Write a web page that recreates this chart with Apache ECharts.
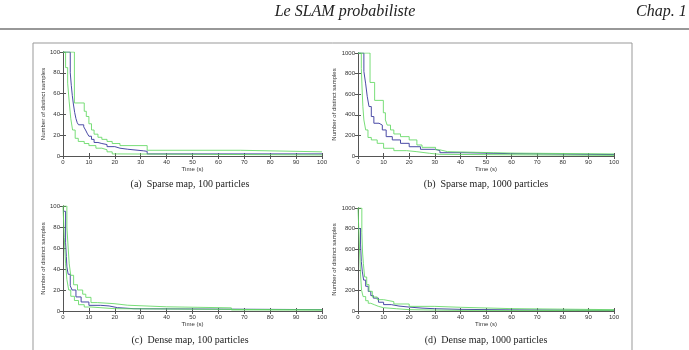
<!DOCTYPE html>
<html>
<head>
<meta charset="utf-8">
<script src="https://cdn.jsdelivr.net/npm/echarts@6/dist/echarts.min.js"></script>
<style>
  html, body { margin: 0; padding: 0; background: #fff; }
  #chart { width: 689px; height: 350px; }
</style>
</head>
<body>
<div id="chart"></div>
<script>
// (a) sparse map, 100 particles
const aUpT = [0, 4.4, 8.2, 9, 10, 11, 12, 13.5, 15, 17, 19, 22, 32.5, 68.5, 100];
const aUp  = [100, 51, 43, 38, 31, 25, 21, 18, 16, 14, 12, 10, 5.5, 4, 4];
const aMeanT = [0, 2.8, 3.2, 3.6, 4, 4.5, 5, 5.5, 6, 8, 8.7, 9.3, 10, 11, 12, 13.5, 15, 17, 20, 22, 25, 31, 32.5, 100];
const aMean  = [100, 80, 68, 58, 50, 42, 36, 32, 30, 28, 25, 22, 19, 16, 13, 12, 11, 9, 7.5, 6.5, 5, 4.5, 2, 2];
const aLowT = [0, 1, 1.8, 2.4, 3, 3.7, 4.7, 5.9, 8.2, 10, 12.7, 15, 17, 19, 21, 100];
const aLow  = [100, 85, 70, 52, 36, 25, 17, 14, 12, 10, 7.5, 6, 4, 2, 1, 1];

// (b) sparse map, 1000 particles
const bUpT = [0, 4.7, 6.5, 9.9, 10.7, 11.4, 12.7, 14, 16.6, 20, 23, 25, 30.3, 32, 35, 53, 61, 100];
const bUp  = [1000, 714, 540, 420, 350, 300, 253, 214, 188, 156, 107, 84, 60, 42, 32, 28, 20, 20];
const bMeanT = [0, 2.3, 3, 3.6, 4.3, 5.2, 6.2, 8.2, 9.5, 11, 13.4, 16.6, 20, 24.4, 30.3, 32, 41, 59.5, 100];
const bMean  = [1000, 820, 700, 580, 480, 383, 318, 300, 253, 188, 156, 123, 90, 65, 52, 32, 23, 14, 14];
const bLowT = [0, 1.3, 1.6, 1.9, 2.3, 3, 3.9, 5.2, 7.5, 10, 14, 19, 23, 28, 32, 100];
const bLow  = [1000, 850, 650, 480, 350, 253, 180, 156, 123, 75, 52, 42, 26, 16, 6, 5];

// (c) dense map, 100 particles
const cUpT = [0, 1.5, 2, 2.4, 3, 4.1, 5.6, 7.6, 8.8, 10.8, 13.3, 19.7, 25, 40, 65, 100];
const cUp  = [100, 80, 60, 45, 34, 25, 20, 16, 13, 8, 7, 5.5, 4, 3, 1, 1];
const cMeanT = [0, 1, 1.3, 1.5, 2, 2.8, 3.5, 5, 7, 10, 14.6, 17.8, 21, 27.4, 100];
const cMean  = [95, 65, 52, 42, 35, 24, 20, 13.4, 8.6, 5.4, 4.8, 3.2, 2.2, 1.3, 1];
const cLowT = [0, 0.5, 1, 1.5, 2.2, 3, 4.4, 6, 8.2, 10.8, 20, 100];
const cLow  = [100, 70, 45, 30, 20, 14, 10, 6, 3.8, 2.2, 1, 0.5];

// (d) dense map, 1000 particles
const dUpT = [0, 1.5, 1.8, 2.1, 2.6, 3.4, 4.3, 5.6, 7.5, 10, 14, 20, 30, 40, 60, 100];
const dUp  = [1000, 760, 563, 460, 330, 256, 191, 136, 110, 91, 68, 45, 36, 23, 13, 8];
const dMeanT = [0, 1, 1.3, 1.7, 2.2, 3, 4, 5, 6, 8, 10, 13, 16, 20, 25, 30, 40, 60, 100];
const dMean  = [800, 650, 480, 380, 300, 240, 190, 150, 125, 85, 62, 48, 38, 28, 22, 16, 11, 7, 5];
const dLowT = [0, 0.6, 1, 1.4, 2, 3, 4, 5, 6.5, 8, 10, 15, 20, 30, 40, 100];
const dLow  = [1000, 600, 350, 200, 140, 100, 75, 60, 45, 32, 22, 13, 9, 6, 4, 3];

const captions = [
  '(a)  Sparse map, 100 particles',
  '(b)  Sparse map, 1000 particles',
  '(c)  Dense map, 100 particles',
  '(d)  Dense map, 1000 particles'
];
const yMax = [100, 1000, 100, 1000];
const yStep = [20, 200, 20, 200];

const panels = [
  [[aUpT, aUp], [aMeanT, aMean], [aLowT, aLow]],
  [[bUpT, bUp], [bMeanT, bMean], [bLowT, bLow]],
  [[cUpT, cUp], [cMeanT, cMean], [cLowT, cLow]],
  [[dUpT, dUp], [dMeanT, dMean], [dLowT, dLow]]
];

const pairs = (t, v) => t.map((x, i) => [x, v[i]]);

const grids = [
  {left: 63, width: 259, top: 52, height: 104},
  {left: 358, width: 256, top: 53, height: 103},
  {left: 63, width: 259, top: 206, height: 105},
  {left: 358, width: 256, top: 208, height: 103}
];

const axisFont = 'Liberation Sans';
const lineCol = '#555';
const green = '#62d862';
const blue = '#4a4aa6';

var xAxes = [], yAxes = [], series = [];
grids.forEach(function (g, i) {
  // bottom x axis with labels
  xAxes.push({
    gridIndex: i, type: 'value', min: 0, max: 100, interval: 10,
    name: 'Time (s)', nameLocation: 'middle', nameGap: 10,
    nameTextStyle: {fontSize: 6, color: '#333', fontFamily: axisFont},
    axisLine: {show: true, lineStyle: {color: lineCol, width: 1}},
    axisTick: {show: true, inside: true, length: 3, lineStyle: {color: lineCol}},
    axisLabel: {fontSize: 6, color: '#333', margin: 3, fontFamily: axisFont},
    splitLine: {show: false}
  });
  // top x axis, ticks only (box)
  xAxes.push({
    gridIndex: i, type: 'value', min: 0, max: 100, interval: 10, position: 'top',
    axisLine: {show: true, lineStyle: {color: lineCol, width: 1}},
    axisTick: {show: true, inside: true, length: 3, lineStyle: {color: lineCol}},
    axisLabel: {show: false}, splitLine: {show: false}
  });
  yAxes.push({
    gridIndex: i, type: 'value', min: 0, max: yMax[i], interval: yStep[i],
    name: 'Number of distinct samples', nameLocation: 'middle', nameGap: 17,
    nameTextStyle: {fontSize: 6, color: '#333', fontFamily: axisFont},
    axisLine: {show: true, lineStyle: {color: lineCol, width: 1}},
    axisTick: {show: true, inside: true, length: 3, lineStyle: {color: lineCol}},
    axisLabel: {fontSize: 6, color: '#333', margin: 3, fontFamily: axisFont,
                formatter: function (v) { return String(v); }},
    splitLine: {show: false}
  });
  yAxes.push({
    gridIndex: i, type: 'value', min: 0, max: yMax[i], interval: yStep[i], position: 'right',
    axisLine: {show: true, lineStyle: {color: lineCol, width: 1}},
    axisTick: {show: true, inside: true, length: 3, lineStyle: {color: lineCol}},
    axisLabel: {show: false}, splitLine: {show: false}
  });

  var cols = [green, blue, green];
  panels[i].forEach(function (s, k) {
    series.push({
      type: 'line', step: 'end', showSymbol: false, silent: true,
      xAxisIndex: 2 * i, yAxisIndex: 2 * i,
      data: pairs(s[0], s[1]),
      lineStyle: {color: cols[k], width: 1, opacity: k === 1 ? 1 : 0.85},
      z: k === 1 ? 2 : 3
    });
  });
});

const capPos = [[190, 184], [486, 184], [190, 340], [486, 340]];
var graphics = [
  {type: 'text', x: 345, y: 12, style: {text: 'Le SLAM probabiliste', font: 'italic 16px "Liberation Serif"', fill: '#222', align: 'center', verticalAlign: 'middle'}},
  {type: 'text', x: 636, y: 12, style: {text: 'Chap. 1', font: 'italic 16px "Liberation Serif"', fill: '#222', align: 'left', verticalAlign: 'middle'}},
  {type: 'line', shape: {x1: 0, y1: 29, x2: 689, y2: 29}, style: {stroke: '#333', lineWidth: 1.2}},
  {type: 'rect', shape: {x: 33, y: 43, width: 599, height: 340}, style: {fill: 'none', stroke: '#999', lineWidth: 1}}
];
captions.forEach(function (c, i) {
  graphics.push({
    type: 'text', x: capPos[i][0], y: capPos[i][1],
    style: {text: c, font: '10px "Liberation Serif"', fill: '#222', align: 'center', verticalAlign: 'middle'}
  });
});

var chart = echarts.init(document.getElementById('chart'), null, {renderer: 'canvas'});
chart.setOption({
  animation: false,
  backgroundColor: '#fff',
  grid: grids,
  xAxis: xAxes,
  yAxis: yAxes,
  series: series,
  graphic: graphics
});
</script>
</body>
</html>
